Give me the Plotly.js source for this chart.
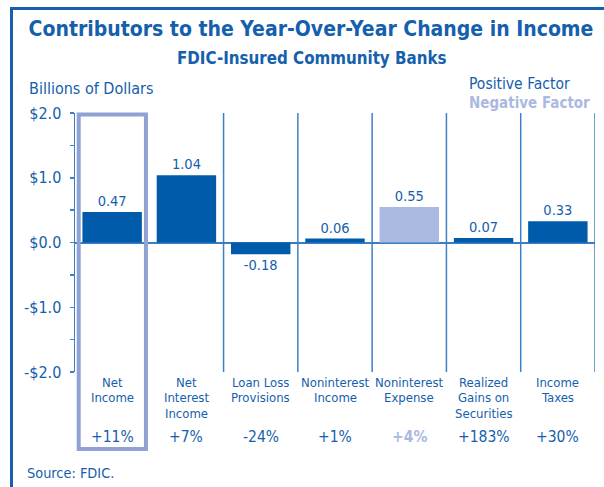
<!DOCTYPE html>
<html>
<head>
<meta charset="utf-8">
<script src="https://cdn.plot.ly/plotly-3.0.1.min.js"></script>
<style>html,body{margin:0;padding:0;background:#fff;}#chart{width:604px;height:487px;}</style>
</head>
<body>
<div id="chart"></div>
<script>
const categories = [
  ["Net", "Income"],
  ["Net", "Interest", "Income"],
  ["Loan Loss", "Provisions"],
  ["Noninterest", "Income"],
  ["Noninterest", "Expense"],
  ["Realized", "Gains on", "Securities"],
  ["Income", "Taxes"]
];
const values = [0.47, 1.04, -0.18, 0.06, 0.55, 0.07, 0.33];
const pctChange = ["+11%", "+7%", "-24%", "+1%", "+4%", "+183%", "+30%"];
const isNegativeFactor = [false, false, false, false, true, false, false];
const yTickVals = [2, 1, 0, -1, -2];
const yTickText = ["$2.0", "$1.0", "$0.0", "-$1.0", "-$2.0"];

const FONT = "'Liberation Sans Narrow', 'Arial Narrow', 'DejaVu Sans Condensed', sans-serif";
const DARK = "#005BAA";
const LIGHT = "#AAB9DF";
const BOX = "#8FA2D3";
const TEXT = "#1560AC";
const GRID = "#3F80C4";
const FRAME = "#1A5FAB";

const W = 604, H = 487;
const L = 75, R = 9, T = 113, B = 115;
const PW = W - L - R, PH = H - T - B;
const px2x = p => (p - L) / PW;
const py2y = p => (H - B - p) / PH;

const xs = categories.map((_, i) => i);

const trace = {
  type: "bar",
  x: xs,
  y: values,
  width: 0.8,
  marker: {color: isNegativeFactor.map(n => n ? LIGHT : DARK), line: {width: 0}},
  text: values.map(v => v.toFixed(2)),
  textposition: "outside",
  textfont: {family: FONT, size: 14.5, color: TEXT},
  constraintext: "none",
  cliponaxis: false,
  hoverinfo: "none"
};

const shapes = [];
for (let i = 1; i < categories.length; i++) {
  shapes.push({type: "line", xref: "x", yref: "y", x0: i + 0.5, x1: i + 0.5, y0: -2, y1: 2,
    line: {color: GRID, width: 1.5}, layer: "below"});
}
shapes.push({type: "rect", xref: "x", yref: "paper", x0: -0.45, x1: 0.455, y0: py2y(449), y1: py2y(114.5),
  line: {color: BOX, width: 4}, fillcolor: "rgba(0,0,0,0)", layer: "above"});
shapes.push({type: "line", xref: "paper", yref: "paper", x0: px2x(11.5), x1: px2x(610), y0: py2y(8.5), y1: py2y(8.5),
  line: {color: FRAME, width: 3}});
shapes.push({type: "line", xref: "paper", yref: "paper", x0: px2x(11.5), x1: px2x(11.5), y0: py2y(7), y1: py2y(495),
  line: {color: FRAME, width: 3}});

const annotations = [];
categories.forEach((lines, i) => {
  lines.forEach((ln, j) => {
    annotations.push({xref: "x", yref: "paper", x: i, y: py2y(382 + j * 15.5), text: ln, showarrow: false,
      xanchor: "center", yanchor: "middle", font: {family: FONT, size: 13, color: TEXT}});
  });
  annotations.push({xref: "x", yref: "paper", x: i, y: py2y(437),
    text: isNegativeFactor[i] ? "<b>" + pctChange[i] + "</b>" : pctChange[i], showarrow: false,
    xanchor: "center", yanchor: "middle",
    font: {family: FONT, size: 15.5, color: isNegativeFactor[i] ? LIGHT : TEXT}});
});
annotations.push({xref: "paper", yref: "paper", x: px2x(311), y: py2y(58), text: "<b>FDIC-Insured Community Banks</b>",
  showarrow: false, xanchor: "center", yanchor: "middle", font: {family: FONT, size: 16.8, color: TEXT}});
annotations.push({xref: "paper", yref: "paper", x: px2x(27), y: py2y(88), text: "Billions of Dollars",
  showarrow: false, xanchor: "left", yanchor: "middle", font: {family: FONT, size: 16, color: TEXT}});
annotations.push({xref: "paper", yref: "paper", x: px2x(467), y: py2y(84), text: "Positive Factor",
  showarrow: false, xanchor: "left", yanchor: "middle", font: {family: FONT, size: 15.5, color: TEXT}});
annotations.push({xref: "paper", yref: "paper", x: px2x(467), y: py2y(103), text: "<b>Negative Factor</b>",
  showarrow: false, xanchor: "left", yanchor: "middle", font: {family: FONT, size: 15, color: LIGHT}});
annotations.push({xref: "paper", yref: "paper", x: px2x(25), y: py2y(473), text: "Source: FDIC.",
  showarrow: false, xanchor: "left", yanchor: "middle", font: {family: FONT, size: 14.4, color: TEXT}});

const layout = {
  width: W, height: H,
  margin: {l: L, r: R, t: T, b: B, pad: 0},
  paper_bgcolor: "#fff", plot_bgcolor: "#fff",
  showlegend: false,
  title: {text: "<b>Contributors to the Year-Over-Year Change in Income</b>", xref: "paper", x: px2x(311), xanchor: "center",
    yref: "container", y: 1 - 29 / H, yanchor: "middle", font: {family: FONT, size: 21, color: TEXT}},
  xaxis: {range: [-0.5, 6.5], showticklabels: false, showgrid: false, zeroline: false, showline: false, ticks: "", fixedrange: true},
  yaxis: {range: [-2, 2], tickvals: yTickVals, ticktext: yTickText, showgrid: false,
    zeroline: true, zerolinecolor: "#3A7DC4", zerolinewidth: 2,
    showline: true, linecolor: GRID, linewidth: 1.5,
    ticks: "outside", ticklen: 4, tickcolor: GRID, tickwidth: 1.5,
    minor: {dtick: 0.5, tick0: 0, ticks: "outside", ticklen: 4, tickcolor: GRID, tickwidth: 1.5, showgrid: false},
    tickfont: {family: FONT, size: 16, color: TEXT}, ticklabelstandoff: 5, fixedrange: true},
  shapes: shapes,
  annotations: annotations,
  bargap: 0.2
};

Plotly.newPlot("chart", [trace], layout, {displayModeBar: false, staticPlot: true});
</script>
</body>
</html>
